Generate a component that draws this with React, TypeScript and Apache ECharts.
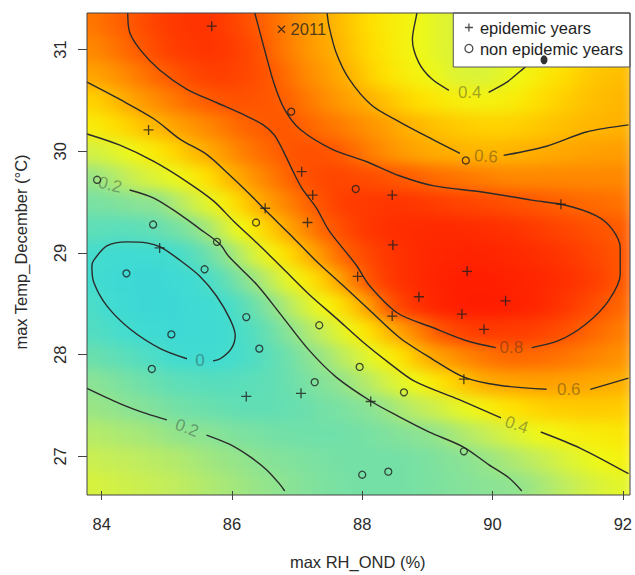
import React, { useEffect, useRef } from "react";
import * as echarts from "echarts";

// ---------- axes ----------
const xTicks = [84, 86, 88, 90, 92];
const yTicks = [27, 28, 29, 30, 31];
const xRange = [83.775, 92.087];
const yRange = [26.66, 31.36];

// ---------- probability field (cell centres) ----------
const gridX = [83.875, 84.125, 84.375, 84.625, 84.875, 85.125, 85.375, 85.625, 85.875, 86.125, 86.375, 86.625, 86.875, 87.125, 87.375, 87.625, 87.875, 88.125, 88.375, 88.625, 88.875, 89.125, 89.375, 89.625, 89.875, 90.125, 90.375, 90.625, 90.875, 91.125, 91.375, 91.625, 91.875, 92.125];
const gridY = [31.25, 31.0, 30.75, 30.5, 30.25, 30.0, 29.75, 29.5, 29.25, 29.0, 28.75, 28.5, 28.25, 28.0, 27.75, 27.5, 27.25, 27.0, 26.75];
const probRows = [
  [0.74,0.77,0.795,0.83,0.86,0.88,0.89,0.89,0.87,0.84,0.80,0.76,0.71,0.66,0.62,0.58,0.54,0.50,0.46,0.43,0.395,0.37,0.35,0.33,0.32,0.32,0.33,0.35,0.37,0.39,0.42,0.44,0.46,0.47],
  [0.70,0.73,0.77,0.805,0.84,0.87,0.88,0.89,0.88,0.86,0.83,0.77,0.72,0.67,0.63,0.595,0.55,0.51,0.47,0.43,0.395,0.37,0.35,0.34,0.335,0.34,0.35,0.37,0.40,0.43,0.46,0.48,0.50,0.51],
  [0.63,0.66,0.70,0.74,0.78,0.81,0.84,0.86,0.865,0.85,0.83,0.80,0.75,0.70,0.66,0.62,0.58,0.53,0.49,0.45,0.42,0.39,0.36,0.35,0.35,0.37,0.40,0.44,0.48,0.51,0.54,0.56,0.57,0.58],
  [0.53,0.565,0.61,0.655,0.695,0.735,0.77,0.795,0.815,0.82,0.815,0.805,0.78,0.74,0.70,0.66,0.625,0.595,0.56,0.53,0.50,0.47,0.45,0.43,0.43,0.44,0.46,0.49,0.52,0.54,0.56,0.575,0.585,0.59],
  [0.45,0.49,0.52,0.56,0.59,0.63,0.665,0.70,0.735,0.77,0.79,0.805,0.805,0.78,0.755,0.73,0.70,0.67,0.64,0.605,0.585,0.565,0.55,0.54,0.53,0.53,0.535,0.545,0.56,0.57,0.585,0.59,0.595,0.60],
  [0.33,0.355,0.385,0.43,0.475,0.52,0.57,0.61,0.66,0.71,0.75,0.78,0.81,0.825,0.82,0.80,0.76,0.72,0.68,0.65,0.625,0.61,0.60,0.59,0.585,0.59,0.595,0.605,0.615,0.625,0.635,0.64,0.645,0.65],
  [0.22,0.25,0.29,0.33,0.36,0.39,0.44,0.50,0.56,0.62,0.68,0.73,0.78,0.82,0.84,0.85,0.84,0.83,0.815,0.80,0.78,0.76,0.745,0.73,0.72,0.705,0.70,0.70,0.70,0.70,0.70,0.70,0.70,0.70],
  [0.15,0.16,0.175,0.19,0.20,0.255,0.31,0.37,0.44,0.52,0.595,0.66,0.715,0.775,0.82,0.86,0.875,0.88,0.885,0.885,0.88,0.87,0.86,0.85,0.84,0.83,0.82,0.81,0.795,0.78,0.77,0.76,0.75,0.74],
  [0.09,0.08,0.08,0.09,0.11,0.14,0.18,0.24,0.32,0.40,0.48,0.55,0.63,0.70,0.775,0.82,0.86,0.885,0.90,0.91,0.915,0.92,0.92,0.915,0.91,0.90,0.89,0.875,0.86,0.845,0.83,0.815,0.80,0.79],
  [0.01,-0.01,-0.02,-0.02,-0.01,0.01,0.06,0.12,0.19,0.27,0.35,0.43,0.51,0.585,0.665,0.755,0.81,0.85,0.88,0.90,0.92,0.93,0.935,0.94,0.935,0.93,0.92,0.91,0.895,0.88,0.86,0.84,0.815,0.795],
  [0.00,-0.03,-0.05,-0.06,-0.06,-0.04,-0.02,0.025,0.09,0.16,0.23,0.30,0.38,0.46,0.535,0.62,0.73,0.82,0.87,0.90,0.92,0.94,0.95,0.955,0.955,0.95,0.94,0.93,0.92,0.90,0.88,0.86,0.82,0.79],
  [0.03,-0.01,-0.04,-0.06,-0.07,-0.06,-0.04,-0.02,0.005,0.06,0.13,0.20,0.27,0.34,0.41,0.48,0.56,0.66,0.79,0.86,0.90,0.93,0.95,0.96,0.96,0.955,0.945,0.93,0.91,0.88,0.85,0.82,0.78,0.76],
  [0.05,0.03,0.005,-0.02,-0.04,-0.05,-0.04,-0.03,-0.01,0.025,0.07,0.13,0.19,0.245,0.30,0.36,0.425,0.505,0.58,0.65,0.72,0.795,0.84,0.865,0.875,0.875,0.87,0.86,0.84,0.82,0.79,0.76,0.73,0.71],
  [0.12,0.10,0.08,0.05,0.03,0.00,-0.015,-0.015,0.00,0.02,0.05,0.09,0.13,0.18,0.22,0.27,0.32,0.375,0.435,0.50,0.575,0.63,0.67,0.71,0.74,0.76,0.77,0.765,0.755,0.74,0.72,0.70,0.68,0.665],
  [0.19,0.17,0.15,0.13,0.11,0.09,0.08,0.07,0.07,0.075,0.085,0.10,0.12,0.15,0.175,0.20,0.24,0.28,0.33,0.375,0.41,0.47,0.52,0.57,0.61,0.625,0.635,0.64,0.64,0.635,0.625,0.615,0.605,0.595],
  [0.22,0.21,0.195,0.18,0.16,0.145,0.13,0.12,0.11,0.10,0.10,0.10,0.11,0.12,0.14,0.15,0.17,0.19,0.22,0.26,0.29,0.32,0.36,0.39,0.43,0.47,0.50,0.52,0.535,0.54,0.545,0.545,0.54,0.535],
  [0.27,0.26,0.25,0.24,0.225,0.21,0.20,0.19,0.175,0.16,0.15,0.14,0.135,0.13,0.13,0.13,0.14,0.15,0.165,0.18,0.195,0.21,0.24,0.27,0.30,0.33,0.36,0.39,0.41,0.43,0.445,0.455,0.465,0.47],
  [0.31,0.30,0.295,0.285,0.275,0.265,0.25,0.235,0.22,0.21,0.195,0.18,0.17,0.16,0.15,0.145,0.14,0.14,0.14,0.145,0.15,0.165,0.18,0.195,0.215,0.24,0.265,0.29,0.32,0.35,0.375,0.40,0.42,0.43],
  [0.34,0.33,0.32,0.31,0.30,0.29,0.275,0.26,0.245,0.23,0.215,0.205,0.19,0.175,0.16,0.15,0.145,0.14,0.14,0.145,0.15,0.16,0.17,0.18,0.19,0.195,0.205,0.23,0.26,0.29,0.32,0.345,0.365,0.375],
];

// ---------- contour lines, split where labels sit ----------
const contour0 = [[85.71,27.94],[85.82,27.96],[85.99,28.06],[86.05,28.19],[85.97,28.35],[85.76,28.58],[85.51,28.77],[85.20,28.93],[84.90,29.06],[84.69,29.10],[84.39,29.11],[84.08,29.07],[83.88,28.93],[83.85,28.87],[83.88,28.71],[84.08,28.48],[84.44,28.25],[84.90,28.06],[85.31,27.96]];
const contour02Upper = [[84.43,29.62],[84.80,29.54],[85.20,29.38],[85.50,29.24],[85.81,29.09],[85.96,28.96],[86.38,28.69],[86.78,28.37],[87.19,28.04],[87.60,27.78],[88.14,27.54],[88.57,27.39],[89.03,27.24],[89.56,27.09],[89.94,26.92],[90.25,26.79],[90.45,26.66]];
const contour02LowerA = [[83.775,27.67],[84.28,27.52],[84.69,27.42],[85.00,27.36]];
const contour02LowerB = [[85.61,27.21],[85.96,27.12],[86.27,27.00],[86.53,26.87],[86.73,26.73],[86.81,26.66]];
const contour04LowerA = [[83.775,30.17],[84.28,30.06],[84.80,29.90],[85.31,29.70],[85.72,29.51],[86.03,29.31],[86.38,29.10],[86.78,28.85],[87.19,28.59],[87.60,28.36],[88.00,28.13],[88.41,27.92],[88.80,27.74],[89.48,27.56],[90.13,27.38]];
const contour04LowerB = [[90.74,27.24],[91.35,27.08],[92.087,26.83]];
const contour04UpperA = [[88.84,31.36],[88.83,31.33],[88.77,31.10],[88.87,30.87],[89.07,30.71],[89.33,30.60]];
const contour04UpperB = [[89.94,30.58],[90.22,30.68],[90.43,30.79],[90.56,30.86],[90.70,30.95]];
const contour06LowerA = [[83.775,30.68],[84.28,30.51],[84.80,30.32],[85.20,30.12],[85.61,29.97],[85.96,29.77],[86.27,29.58],[86.53,29.41],[86.88,29.19],[87.28,28.93],[87.69,28.69],[88.11,28.44],[88.57,28.17],[89.07,27.96],[89.56,27.78],[90.10,27.70],[90.83,27.66]];
const contour06LowerB = [[91.50,27.66],[92.087,27.77]];
const contour06UpperA = [[87.46,31.36],[87.49,31.23],[87.60,30.97],[87.80,30.71],[88.15,30.45],[88.57,30.29],[89.07,30.12],[89.50,29.98]];
const contour06UpperB = [[90.17,29.96],[90.83,30.05],[91.44,30.19],[92.087,30.26]];
const contour08A = [[84.40,31.36],[84.43,31.17],[84.59,31.00],[84.89,30.80],[85.31,30.61],[85.76,30.48],[86.18,30.36],[86.48,30.26],[86.65,30.16],[86.79,30.00],[86.94,29.80],[87.08,29.63],[87.30,29.44],[87.49,29.22],[87.91,28.88],[88.11,28.68],[88.54,28.41],[89.07,28.27],[89.59,28.14],[90.05,28.07]];
const contour08B = [[90.60,28.07],[91.02,28.14],[91.43,28.30],[91.78,28.53],[91.96,28.79],[91.96,29.05],[91.83,29.24],[91.58,29.37],[91.12,29.47],[90.60,29.52],[89.84,29.60],[89.10,29.66],[88.57,29.76],[88.06,29.90],[87.54,30.02],[87.04,30.22],[86.81,30.41],[86.65,30.66],[86.50,31.00],[86.38,31.29],[86.35,31.36]];

const contourLabelText = ["0", "0.2", "0.2", "0.4", "0.4", "0.6", "0.6", "0.8"];
const contourLabelX = [85.51, 84.13, 85.31, 90.37, 89.65, 91.17, 89.90, 90.29];
const contourLabelY = [27.94, 29.67, 27.28, 27.31, 30.58, 27.66, 29.95, 28.07];

// ---------- observed years ----------
const epidemicX = [85.69, 84.72, 87.07, 87.24, 86.51, 87.16, 88.46, 88.47, 91.05, 89.61, 88.87, 90.20, 89.53, 89.87, 87.93, 88.46, 86.22, 87.06, 88.13, 89.56, 84.89];
const epidemicY = [31.23, 30.21, 29.80, 29.57, 29.44, 29.30, 29.57, 29.08, 29.48, 28.82, 28.57, 28.53, 28.40, 28.25, 28.77, 28.38, 27.59, 27.62, 27.54, 27.76, 29.05];
const nonEpidemicX = [86.91, 83.93, 84.79, 85.77, 86.37, 87.90, 89.59, 84.38, 85.58, 86.22, 86.42, 85.07, 84.77, 87.34, 87.27, 87.96, 88.64, 89.56, 88.00, 88.40];
const nonEpidemicY = [30.39, 29.72, 29.28, 29.11, 29.30, 29.63, 29.91, 28.80, 28.84, 28.37, 28.06, 28.20, 27.86, 28.29, 27.73, 27.88, 27.63, 27.05, 26.82, 26.85];
const markedYear = { label: "2011", x: 86.76, y: 31.20 };
const blackDot = { x: 90.79, y: 30.90 };

// ---------- styles / layout ----------
const CELL_W = 0.25;
const CELL_H = 0.25;
const EDGE_PAD = 40; // px: edge cells drawn past the plot so the soft blur has no white rim
const GRID = { left: 87, top: 13, width: 543, height: 482 };
const FONT = "'Liberation Sans', Arial, Helvetica, sans-serif";
const PLUS = "path://M5,0L5,10M0,5L10,5";
const CROSS = "path://M0,0L10,10M0,10L10,0";
const labelRotation = [0, -14, -20, -19, 0, 0, -4, 0];
const fieldColors = ["#3AD6D8", "#42DCD0", "#62DEB4", "#8FE391", "#C6EE58", "#F0F815", "#FFE000", "#FFB000", "#FF8800", "#FF5A00", "#FF3000", "#FF1000"];
const lineColor = "#2b2b2b";
const markStyle = { color: "transparent", borderColor: "#1e1e1e", borderWidth: 1.3 };

function baseAxes(show: boolean) {
  return {
    grid: { ...GRID, containLabel: false },
    xAxis: {
      type: "value",
      min: xRange[0],
      max: xRange[1],
      show,
      axisLine: { show: false },
      splitLine: { show: false },
      axisTick: { show: true, customValues: xTicks, length: 9, lineStyle: { color: "#444", width: 1 } },
      axisLabel: { customValues: xTicks, margin: 24, fontSize: 16.5, color: "#2a2a2a", fontFamily: FONT },
      name: "max RH_OND (%)",
      nameLocation: "middle",
      nameGap: 62,
      nameTextStyle: { fontSize: 16.5, color: "#2a2a2a", fontFamily: FONT },
    },
    yAxis: {
      type: "value",
      min: yRange[0],
      max: yRange[1],
      show,
      axisLine: { show: false },
      splitLine: { show: false },
      axisTick: { show: true, customValues: yTicks, length: 9, lineStyle: { color: "#444", width: 1 } },
      axisLabel: { customValues: yTicks, rotate: 90, margin: 19, fontSize: 16.5, color: "#2a2a2a", fontFamily: FONT },
      name: "max Temp_December (°C)",
      nameLocation: "middle",
      nameRotate: 90,
      nameGap: 58,
      nameTextStyle: { fontSize: 16.5, color: "#2a2a2a", fontFamily: FONT },
    },
  };
}

function buildFieldOption() {
  const cells: number[][] = [];
  gridY.forEach((y, r) => gridX.forEach((x, c) => cells.push([x, y, probRows[r][c]])));
  const firstX = gridX[0];
  const lastX = gridX[gridX.length - 1];
  const firstY = gridY[0];
  const lastY = gridY[gridY.length - 1];

  const renderCell = (_params: any, api: any) => {
    const x = api.value(0);
    const y = api.value(1);
    const p0 = api.coord([x - CELL_W / 2, y + CELL_H / 2]);
    const p1 = api.coord([x + CELL_W / 2, y - CELL_H / 2]);
    let x0 = p0[0] - 0.6;
    let x1 = p1[0] + 0.6;
    let y0 = p0[1] - 0.6;
    let y1 = p1[1] + 0.6;
    if (x === firstX) x0 -= EDGE_PAD;
    if (x === lastX) x1 += EDGE_PAD;
    if (y === firstY) y0 -= EDGE_PAD;
    if (y === lastY) y1 += EDGE_PAD;
    return {
      type: "rect",
      shape: { x: x0, y: y0, width: x1 - x0, height: y1 - y0 },
      style: { fill: api.visual("color") },
    };
  };

  return {
    animation: false,
    ...baseAxes(false),
    visualMap: {
      type: "continuous",
      show: false,
      min: -0.1,
      max: 1.0,
      dimension: 2,
      seriesIndex: 0,
      inRange: { color: fieldColors },
    },
    series: [
      {
        type: "custom",
        name: "field",
        data: cells,
        dimensions: ["x", "y", "p"],
        encode: { x: 0, y: 1 },
        renderItem: renderCell,
        silent: true,
        clip: false,
      },
    ],
  };
}

function buildOverlayOption() {
  const segments = [contour0, contour02Upper, contour02LowerA, contour02LowerB, contour04LowerA, contour04LowerB, contour04UpperA, contour04UpperB, contour06LowerA, contour06LowerB, contour06UpperA, contour06UpperB, contour08A, contour08B];
  return {
    animation: false,
    textStyle: { fontFamily: FONT },
    ...baseAxes(true),
    legend: {
      data: [
        { name: "epidemic years", icon: PLUS, itemStyle: markStyle },
        { name: "non epidemic years", icon: "circle", itemStyle: markStyle },
      ],
      orient: "vertical",
      right: 5,
      top: 13,
      backgroundColor: "#ffffff",
      borderColor: "#555",
      borderWidth: 1,
      borderRadius: 0,
      padding: [6, 7, 10, 11],
      itemGap: 4,
      itemWidth: 12,
      itemHeight: 8,
      selectedMode: false,
      textStyle: { fontSize: 16.5, color: "#222", fontFamily: FONT },
    },
    graphic: [
      {
        type: "rect",
        shape: { x: GRID.left, y: GRID.top, width: GRID.width, height: GRID.height },
        style: { fill: "none", stroke: "#444", lineWidth: 1 },
        z: 100,
        silent: true,
      },
    ],
    series: [
      ...segments.map((seg) => ({
        type: "line",
        data: seg,
        showSymbol: false,
        symbol: "none",
        smooth: 0.3,
        clip: true,
        silent: true,
        lineStyle: { color: lineColor, width: 1.4 },
        z: 3,
      })),
      {
        type: "scatter",
        name: "contour labels",
        silent: true,
        symbolSize: 1,
        itemStyle: { color: "transparent" },
        data: contourLabelText.map((t, i) => ({
          name: t,
          value: [contourLabelX[i], contourLabelY[i]],
          label: { rotate: labelRotation[i] },
        })),
        label: {
          show: true,
          position: "inside",
          formatter: "{b}",
          fontSize: 17,
          color: "rgba(40,40,40,0.5)",
          fontFamily: FONT,
        },
        z: 4,
      },
      {
        type: "scatter",
        name: "epidemic years",
        symbol: PLUS,
        symbolSize: 10,
        itemStyle: markStyle,
        data: epidemicX.map((x, i) => [x, epidemicY[i]]),
        z: 5,
      },
      {
        type: "scatter",
        name: "non epidemic years",
        symbol: "circle",
        symbolSize: 7,
        itemStyle: markStyle,
        data: nonEpidemicX.map((x, i) => [x, nonEpidemicY[i]]),
        z: 5,
      },
      {
        type: "scatter",
        name: "marked year",
        symbol: CROSS,
        symbolSize: 7,
        itemStyle: markStyle,
        data: [[markedYear.x, markedYear.y]],
        label: { show: true, position: "right", distance: 5, formatter: markedYear.label, fontSize: 16.5, color: "#222", fontFamily: FONT },
        z: 5,
      },
      {
        type: "scatter",
        name: "mark",
        symbol: "circle",
        symbolSize: [7, 9],
        itemStyle: { color: "#000" },
        data: [[blackDot.x, blackDot.y]],
        z: 10,
      },
    ],
  };
}

export default function App() {
  const fieldRef = useRef<HTMLDivElement>(null);
  const ref = useRef<HTMLDivElement>(null);
  useEffect(() => {
    if (!ref.current || !fieldRef.current) return;
    const field = echarts.init(fieldRef.current, undefined, { renderer: "svg" });
    field.setOption(buildFieldOption() as any);
    const chart = echarts.init(ref.current, undefined, { renderer: "svg" });
    chart.setOption(buildOverlayOption() as any);
    return () => {
      chart.dispose();
      field.dispose();
    };
  }, []);
  return (
    <div style={{ position: "fixed", left: 0, top: 0, width: 635, height: 575, background: "#ffffff" }}>
      <div
        style={{
          position: "absolute",
          left: GRID.left,
          top: GRID.top,
          width: GRID.width,
          height: GRID.height,
          overflow: "hidden",
        }}
      >
        <div
          ref={fieldRef}
          style={{
            position: "absolute",
            left: -GRID.left,
            top: -GRID.top,
            width: 635,
            height: 575,
            filter: "blur(7px)",
          }}
        />
      </div>
      <div ref={ref} style={{ position: "absolute", left: 0, top: 0, width: 635, height: 575 }} />
    </div>
  );
}
